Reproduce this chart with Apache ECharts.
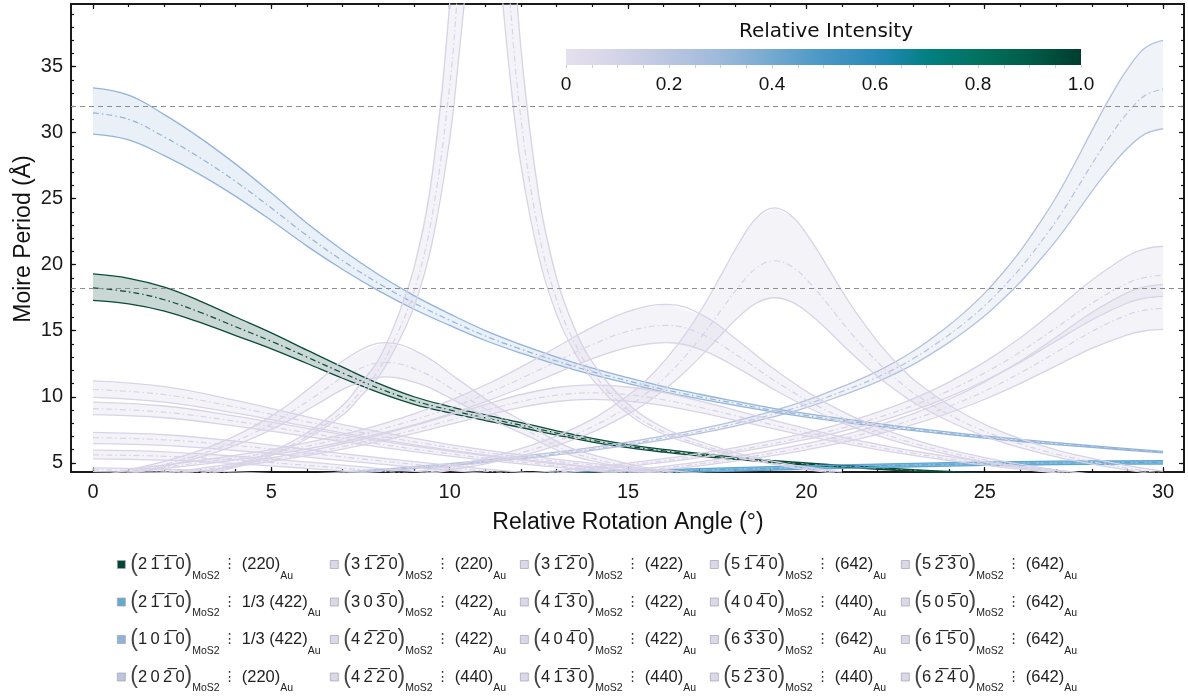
<!DOCTYPE html>
<html>
<head>
<meta charset="utf-8">
<title>Moire period vs rotation angle</title>
<script src="https://cdn.jsdelivr.net/npm/echarts@6/dist/echarts.min.js"></script>
<style>
  html, body { margin: 0; padding: 0; background: #fff; }
  #chart { width: 1188px; height: 697px; }
</style>
</head>
<body>
<div id="chart"></div>
<script>
// each band row: [angle, lower, centre, upper]
const greenBand = [
  [0,17.3,18.25,19.3],[1,17.03,17.95,18.97],[2,16.49,17.35,18.3],[3,15.63,16.4,17.25],
  [4,14.63,15.3,16.04],[5,13.63,14.2,14.84],[6,12.52,13.0,13.53],[7,11.4,11.8,12.24],
  [8,10.33,10.65,11.01],[9,9.43,9.7,10.0],[10,8.77,9.0,9.26],[11,8.2,8.4,8.62],
  [12,7.67,7.85,8.04],[13,7.1,7.25,7.42],[14,6.57,6.7,6.84],[15,6.14,6.25,6.37],
  [16,5.8,5.9,6.01],[17,5.51,5.6,5.7],[18,5.25,5.33,5.42],[19,5.03,5.1,5.18],
  [20,4.83,4.9,4.98],[21,4.67,4.73,4.8],[22,4.51,4.57,4.64],[23,4.36,4.42,4.48],
  [24,4.23,4.28,4.34],[25,4.1,4.15,4.2],[26,4.0,4.05,4.1]
];
const blueBand = [
  [0,29.9,31.5,33.4],[1,29.46,31.01,32.85],[2,28.26,29.68,31.37],[3,26.83,28.1,29.61],
  [4,25.18,26.3,27.62],[5,23.35,24.3,25.43],[6,21.41,22.2,23.14],[7,19.64,20.3,21.09],
  [8,18.04,18.6,19.26],[9,16.63,17.1,17.66],[10,15.4,15.8,16.28],[11,14.26,14.6,15.01],
  [12,13.3,13.6,13.95],[13,12.44,12.7,13.01],[14,11.67,11.9,12.17],[15,11.0,11.2,11.44],
  [16,10.37,10.55,10.76],[17,9.84,10.0,10.19],[18,9.35,9.5,9.67],[19,8.87,9.0,9.16],
  [20,8.46,8.58,8.72],[22,7.75,7.85,7.97],[24,7.14,7.22,7.32],[26,6.61,6.68,6.77],
  [28,6.16,6.22,6.29],[30,5.75,5.8,5.86]
];
const brightBand = [
  [10,3.73,3.86,3.99],[12,3.89,4.02,4.15],[14,4.06,4.19,4.32],[16,4.22,4.35,4.48],
  [18,4.37,4.5,4.63],[20,4.51,4.64,4.77],[22,4.64,4.77,4.9],[24,4.75,4.88,5.01],
  [26,4.83,4.96,5.09],[28,4.88,5.01,5.14],[30,4.9,5.03,5.16]
];
const periBand = [
  [6,4.01,4.06,4.12],[7,4.19,4.24,4.3],[8,4.36,4.42,4.49],[9,4.56,4.62,4.7],
  [10,4.78,4.85,4.93],[11,5.04,5.11,5.2],[12,5.31,5.39,5.49],[13,5.6,5.69,5.8],
  [14,5.94,6.04,6.16],[15,6.32,6.43,6.57],[16,6.74,6.87,7.03],[17,7.22,7.37,7.55],
  [18,7.78,7.95,8.16],[19,8.43,8.63,8.88],[20,9.18,9.42,9.72],[21,10.11,10.4,10.76],
  [22,11.14,11.5,11.94],[23,12.45,12.9,13.46],[24,14.12,14.7,15.42],[24.5,15.07,15.74,16.57],
  [25,16.13,16.9,17.85],[25.5,17.36,18.26,19.37],[26,18.69,19.75,21.05],[26.5,20.21,21.46,23.0],
  [27,21.83,23.3,25.11],[27.5,23.65,25.4,27.55],[28,25.54,27.6,30.14],[28.5,27.3,29.68,32.62],
  [29,28.82,31.5,34.81],[29.5,29.91,32.83,36.43],[30,30.3,33.3,37.0]
];
const peak11Band = [
  [3,4.04,4.1,4.19],[4,4.67,4.75,4.87],[5,5.54,5.65,5.83],[6,6.82,7.0,7.27],
  [7,8.61,8.9,9.34],[7.5,10.01,10.4,11.0],[8,11.48,12.0,12.79],[8.5,13.83,14.6,15.77],
  [9,16.83,18.0,19.78],[9.5,21.59,23.6,26.66],[10,29.54,33.6,39.81],[10.25,35.58,41.9,51.56],
  [10.5,42.39,52.2,67.19],[10.75,49.09,63.7,86.02],[10.95,51.4,68.0,93.4],[11.2,48.0,61.7,82.6],
  [11.45,40.9,49.9,63.6],[11.7,34.0,39.7,48.4],[12,27.5,31.0,36.3],[12.5,20.6,22.4,25.2],
  [13,16.22,17.3,18.95],[13.5,13.38,14.1,15.19],[14,11.34,11.85,12.62],[15,8.71,9.0,9.45],
  [16,7.16,7.35,7.65],[17,6.25,6.4,6.63],[18,5.49,5.6,5.77],[19,4.91,5.0,5.14],
  [20,4.48,4.55,4.66],[21,4.14,4.2,4.3]
];
const peak8Band = [
  [0.2,3.79,3.89,4.03],[1.2,4.26,4.39,4.57],[2.2,4.84,5.01,5.25],[3.2,5.58,5.81,6.13],
  [4.2,6.54,6.87,7.32],[5.2,7.78,8.25,8.89],[6.2,9.3,9.99,10.93],[7.2,10.8,11.76,13.07],
  [8.2,11.5,12.6,14.1],[9.2,10.93,11.91,13.25],[10.2,9.63,10.37,11.39],[11.2,8.23,8.76,9.48],
  [12.2,7.02,7.4,7.92],[13.2,5.75,6.0,6.34],[14.2,5.01,5.2,5.46],[15.2,4.45,4.6,4.8],
  [16.2,3.98,4.1,4.26]
];
const broad14Band = [
  [1,3.82,3.89,3.98],[2,4.08,4.16,4.26],[3,4.38,4.47,4.58],[4,4.71,4.82,4.95],
  [5,5.1,5.23,5.38],[6,5.54,5.69,5.87],[7,6.04,6.22,6.44],[8,6.6,6.82,7.08],
  [9,7.23,7.49,7.81],[10,7.9,8.22,8.6],[11,8.58,8.96,9.41],[12,9.2,9.64,10.17],
  [13,9.64,10.12,10.7],[14,9.8,10.3,10.9],[15,9.67,10.16,10.74],[16,9.32,9.77,10.31],
  [17,8.81,9.21,9.69],[18,8.22,8.57,8.99],[19,7.62,7.91,8.26],[20,7.03,7.28,7.58],
  [21,6.49,6.7,6.95],[22,6.0,6.18,6.4],[23,5.56,5.71,5.89],[24,5.17,5.3,5.46],
  [25,4.82,4.93,5.07],[26,4.51,4.61,4.73],[27,4.23,4.32,4.43],[28,3.98,4.06,4.15]
];
const peak16Band = [
  [1.1,4.32,4.43,4.56],[2.1,4.59,4.71,4.86],[3.1,4.9,5.04,5.21],[4.1,5.25,5.41,5.61],
  [5.1,5.64,5.83,6.06],[6.1,6.1,6.32,6.59],[7.1,6.63,6.89,7.21],[8.1,7.24,7.55,7.93],
  [9.1,7.95,8.33,8.8],[10.1,8.77,9.24,9.82],[11.1,9.72,10.3,11.02],[12.1,10.78,11.51,12.4],
  [13.1,11.91,12.81,13.92],[14.1,12.98,14.07,15.41],[15.1,13.79,15.03,16.55],[16.1,14.1,15.4,17.0],
  [17.1,13.52,14.7,16.16],[18.1,12.13,13.06,14.21],[19.1,10.54,11.23,12.08],[20.1,9.11,9.62,10.24],
  [21.1,7.92,8.3,8.76],[22.1,6.96,7.25,7.6],[23.1,6.18,6.4,6.68],[24.1,5.54,5.72,5.94],
  [25.1,5.01,5.16,5.34],[26.1,4.57,4.69,4.84],[27.1,4.2,4.3,4.42],[28.1,3.88,3.97,4.08]
];
const peak19Band = [
  [9.1,4.05,4.17,4.34],[10.1,4.47,4.61,4.82],[11.1,4.97,5.15,5.41],[12.1,5.6,5.83,6.16],
  [13.1,6.4,6.71,7.15],[14.1,7.44,7.86,8.46],[15.1,8.84,9.44,10.3],[15.6,9.7,10.44,11.5],
  [16.1,10.72,11.64,12.96],[16.6,11.9,13.06,14.72],[17.1,13.23,14.7,16.8],[17.6,14.67,16.52,19.17],
  [18.1,16.05,18.33,21.59],[18.6,17.1,19.75,23.54],[19.1,17.5,20.3,24.3],[19.6,17.17,19.84,23.66],
  [20.1,16.25,18.6,21.96],[20.6,15.04,17.0,19.8],[21.1,13.71,15.3,17.57],[21.6,12.47,13.75,15.59],
  [22.1,11.31,12.35,13.83],[22.6,10.31,11.15,12.36],[23.1,9.41,10.1,11.09],[24.1,8.01,8.5,9.2],
  [25.1,6.91,7.27,7.78],[26.1,6.07,6.34,6.73],[27.1,5.39,5.6,5.9],[28.1,4.86,5.03,5.28],
  [29.1,4.4,4.54,4.74],[30,4.07,4.19,4.36]
];
const rise1Band = [
  [12,4.0,4.07,4.17],[13,4.21,4.29,4.4],[14,4.46,4.55,4.67],[15,4.73,4.83,4.97],
  [16,5.03,5.15,5.31],[17,5.39,5.52,5.7],[18,5.78,5.93,6.14],[19,6.24,6.42,6.67],
  [20,6.77,6.98,7.27],[21,7.38,7.63,7.98],[22,8.1,8.41,8.83],[23,8.96,9.34,9.86],
  [24,9.99,10.46,11.11],[25,11.21,11.81,12.64],[26,12.62,13.4,14.47],[27,14.22,15.22,16.6],
  [28,15.81,17.08,18.82],[29,17.1,18.6,20.66],[29.5,17.47,19.04,21.2],[30,17.6,19.2,21.4]
];
const rise2Band = [
  [14,3.96,4.05,4.16],[15,4.19,4.3,4.42],[16,4.47,4.59,4.73],[17,4.77,4.91,5.07],
  [18,5.12,5.28,5.46],[19,5.52,5.71,5.92],[20,5.98,6.2,6.45],[21,6.52,6.78,7.08],
  [22,7.15,7.47,7.83],[23,7.9,8.29,8.73],[24,8.77,9.26,9.81],[25,9.81,10.43,11.13],
  [26,11.01,11.81,12.71],[27,12.34,13.36,14.51],[28,13.66,14.94,16.38],[29,14.69,16.2,17.89],
  [29.5,15.0,16.57,18.34],[30,15.1,16.7,18.5]
];
const fall1Band = [
  [0,9.95,10.55,11.2],[2,9.6,10.16,10.76],[4,8.76,9.22,9.72],[6,7.75,8.1,8.48],
  [8,6.79,7.06,7.35],[10,5.96,6.16,6.38],[12,5.27,5.43,5.6],[14,4.69,4.82,4.96],
  [16,4.23,4.33,4.44],[18,3.84,3.92,4.01]
];
const fall2Band = [
  [0,8.65,9.1,9.6],[2,8.41,8.83,9.3],[4,7.78,8.14,8.54],[6,6.99,7.28,7.6],
  [8,6.21,6.43,6.68],[10,5.5,5.68,5.88],[12,4.91,5.05,5.2],[14,4.4,4.51,4.63],
  [16,3.98,4.07,4.17]
];
const fall3Band = [
  [0,6.45,6.9,7.3],[2,6.31,6.74,7.12],[4,5.93,6.31,6.64],[6,5.43,5.74,6.02],
  [8,4.91,5.16,5.38],[10,4.42,4.62,4.8],[12,3.98,4.14,4.28],[14,3.6,3.73,3.85]
];
const fall4Band = [
  [0,5.3,5.6,5.95],[2,5.2,5.49,5.83],[4,4.94,5.2,5.5],[6,4.58,4.8,5.06],
  [8,4.19,4.37,4.58],[10,3.81,3.96,4.14]
];
const fall5Band = [[0,4.33,4.47,4.62],[3,4.18,4.3,4.43],[6,3.83,3.92,4.02]];

const refLines = [32, 18.2];
const xMajor = [0, 5, 10, 15, 20, 25, 30];
const yMajor = [5, 10, 15, 20, 25, 30, 35];

// legend entries, column by column: MoS2 indices | Au reflection
const legendCols = [
  ['2,-1,-1,0|220', '2,-1,-1,0|1/3 422', '1,0,-1,0|1/3 422', '2,0,-2,0|220'],
  ['3,-1,-2,0|220', '3,0,-3,0|422', '4,-2,-2,0|422', '4,-2,-2,0|440'],
  ['3,-1,-2,0|422', '4,-1,-3,0|422', '4,0,-4,0|422', '4,-1,-3,0|440'],
  ['5,-1,-4,0|642', '4,0,-4,0|440', '6,-3,-3,0|642', '5,-2,-3,0|440'],
  ['5,-2,-3,0|642', '5,0,-5,0|642', '6,-1,-5,0|642', '6,-2,-4,0|642']
];

const intensityStops = [
  [0, '#e6e0ee'], [0.1, '#d4d4e8'], [0.2, '#bac6e0'], [0.3, '#9cb9da'], [0.4, '#74a9cf'],
  [0.5, '#4a97c5'], [0.6, '#2a8ab8'], [0.65, '#1585a2'], [0.7, '#038082'], [0.8, '#027260'],
  [0.9, '#015c49'], [1, '#003d2e']
];

const palette = {
  green: { line: '#0a4a37', fill: 'rgba(1,70,54,0.21)', icon: '#014636' },
  blue2: { line: '#5ea6d2', fill: 'rgba(94,166,210,0.75)', icon: '#67a9cf' },
  blue:  { line: '#93b4d9', fill: 'rgba(147,180,217,0.2)', icon: '#8fb3d8' },
  peri:  { line: '#b5c1de', fill: 'rgba(181,193,222,0.2)', icon: '#bbc5e0' },
  lav:   { line: '#d9d3e7', fill: 'rgba(217,211,231,0.28)', icon: '#dcd7ea' }
};

const bands = [
  { name: '2,-1,-1,0|220', role: 'green', rows: greenBand },
  { name: '1,0,-1,0|1/3 422', role: 'blue', rows: blueBand },
  { name: '2,-1,-1,0|1/3 422', role: 'blue2', rows: brightBand },
  { name: '2,0,-2,0|220', role: 'peri', rows: periBand },
  { name: '3,-1,-2,0|220', role: 'lav', rows: peak8Band },
  { name: '3,0,-3,0|422', role: 'lav', rows: fall1Band },
  { name: '4,-2,-2,0|422', role: 'lav', rows: rise1Band },
  { name: '4,-2,-2,0|440', role: 'lav', rows: fall2Band },
  { name: '3,-1,-2,0|422', role: 'lav', rows: broad14Band },
  { name: '4,-1,-3,0|422', role: 'lav', rows: peak16Band },
  { name: '4,0,-4,0|422', role: 'lav', rows: fall3Band },
  { name: '4,-1,-3,0|440', role: 'lav', rows: fall4Band },
  { name: '5,-1,-4,0|642', role: 'lav', rows: peak19Band },
  { name: '4,0,-4,0|440', role: 'lav', rows: fall5Band },
  { name: '6,-3,-3,0|642', role: 'lav', rows: rise2Band },
  { name: '5,-2,-3,0|440', role: 'lav', rows: peak11Band },
  { name: '5,-2,-3,0|642', role: 'lav', rows: [] },
  { name: '5,0,-5,0|642', role: 'lav', rows: [] },
  { name: '6,-1,-5,0|642', role: 'lav', rows: [] },
  { name: '6,-2,-4,0|642', role: 'lav', rows: [] }
];

const roleOf = {};
bands.forEach(b => { roleOf[b.name] = b.role; });

function range(a, b) { const r = []; for (let i = a; i <= b; i++) r.push(i); return r; }

function legendLabel(name) {
  const parts = name.split('|');
  const idx = parts[0].split(',').map(d => d.charAt(0) === '-' ? d.slice(1) + '\u0305' : d).join('\u2009');
  let au;
  if (parts[1].indexOf('1/3') === 0) {
    au = '{d|1/3 (' + parts[1].slice(4) + ')}';
  } else {
    au = '{d|(' + parts[1] + ')}';
  }
  return '{p|(}{d|' + idx + '}{p|)}{s|MoS2}{c|\u22EE}' + au + '{s|Au}';
}

const series = [];
bands.forEach(b => {
  const pal = palette[b.role];
  if (!b.rows.length) {
    series.push({ type: 'line', name: b.name, data: [], silent: true });
    return;
  }
  const rows = b.rows;
  series.push({
    type: 'custom', name: b.name, silent: true, clip: true,
    data: [[rows[0][0], rows[0][2]]],
    renderItem: function (params, api) {
      const up = rows.map(r => api.coord([r[0], r[3]]));
      const lo = rows.map(r => api.coord([r[0], r[1]])).reverse();
      const cs = params.coordSys;
      return {
        type: 'polygon',
        shape: { points: up.concat(lo) },
        style: { fill: pal.fill, stroke: null },
        clipPath: { type: 'rect', shape: { x: cs.x, y: cs.y, width: cs.width, height: cs.height } }
      };
    }
  });
  [1, 3].forEach(k => {
    series.push({
      type: 'line', name: b.name, silent: true, smooth: 0.4, symbol: 'none',
      data: rows.map(r => [r[0], r[k]]),
      lineStyle: { color: pal.line, width: 1.3 }
    });
  });
  series.push({
    type: 'line', name: b.name, silent: true, smooth: 0.4, symbol: 'none',
    data: rows.map(r => [r[0], r[2]]),
    lineStyle: { color: pal.line, width: 1.2, type: [6, 3, 1.5, 3] }
  });
});

// dashed reference levels
series[1].markLine = {
  silent: true, symbol: ['none', 'none'], label: { show: false },
  lineStyle: { color: '#8c8c8c', type: [5, 4], width: 1.1 },
  data: refLines.map(v => ({ yAxis: v }))
};

const FONT = 'Liberation Sans';
const xMin = -0.617, xMax = 30.586, yMin = 4.3, yMax = 39.75;

function xAx(pos, ticks, len, labels) {
  return {
    type: 'value', gridIndex: 0, min: xMin, max: xMax, position: pos,
    axisLine: { show: false, onZero: false }, splitLine: { show: false },
    axisTick: { show: true, inside: true, length: len, customValues: ticks, lineStyle: { color: '#111', width: 1.2 } },
    axisLabel: labels ? { customValues: ticks, fontSize: 20, color: '#1a1a1a', margin: 10, fontFamily: FONT } : { show: false }
  };
}
function yAx(pos, ticks, len, labels) {
  return {
    type: 'value', gridIndex: 0, min: yMin, max: yMax, position: pos,
    axisLine: { show: false, onZero: false }, splitLine: { show: false },
    axisTick: { show: true, inside: true, length: len, customValues: ticks, lineStyle: { color: '#111', width: 1.2 } },
    axisLabel: labels ? { customValues: ticks, fontSize: 20, color: '#1a1a1a', margin: 8, fontFamily: FONT } : { show: false }
  };
}

const legendRich = {
  p: { fontSize: 23, lineHeight: 34, fontFamily: FONT, color: '#444' },
  d: { fontSize: 16.5, lineHeight: 34, fontFamily: FONT + ', DejaVu Sans', color: '#222' },
  s: { fontSize: 10.5, lineHeight: 12, verticalAlign: 'bottom', fontFamily: FONT, color: '#222' },
  c: { fontSize: 14, lineHeight: 34, fontFamily: 'DejaVu Sans', color: '#333', padding: [0, 5, 0, 3] }
};
const legendLeft = [117, 330, 520, 710, 901];

const chart = echarts.init(document.getElementById('chart'));
chart.setOption({
  animation: false,
  textStyle: { fontFamily: FONT },
  grid: [
    { left: 71, top: 4, width: 1113, height: 468, show: true, borderColor: '#1a1a1a', borderWidth: 2, backgroundColor: 'transparent' },
    { left: 566, top: 49, width: 515, height: 16 }
  ],
  xAxis: [
    xAx('bottom', xMajor, 5, true),
    xAx('bottom', range(0, 30), 3, false),
    xAx('top', xMajor, 5, false),
    xAx('top', range(0, 30), 3, false),
    {
      type: 'value', gridIndex: 1, min: 0, max: 1, interval: 0.2, position: 'bottom',
      axisLine: { show: false }, splitLine: { show: false },
      axisTick: { show: true, length: 3, lineStyle: { color: '#cfcfcf' } },
      minorTick: { show: true, splitNumber: 4, length: 3, lineStyle: { color: '#cfcfcf' } },
      axisLabel: { fontSize: 19, color: '#111', margin: 10, formatter: v => v === 0 ? '0' : v.toFixed(1) }
    }
  ],
  yAxis: [
    yAx('left', yMajor, 5, true),
    yAx('left', range(5, 39), 3, false),
    yAx('right', yMajor, 5, false),
    yAx('right', range(5, 39), 3, false),
    { type: 'value', gridIndex: 1, min: 0, max: 1, show: false }
  ],
  legend: legendCols.map((col, i) => ({
    orient: 'vertical', left: legendLeft[i], top: 553, height: 170, padding: 0, itemGap: 9,
    itemWidth: 8, itemHeight: 8, icon: 'rect', selectedMode: false,
    data: col.map(n => ({ name: n, itemStyle: { color: palette[roleOf[n]].icon, borderColor: '#a3a3a3', borderWidth: 0.7 } })),
    formatter: legendLabel,
    textStyle: { color: '#222', rich: legendRich }
  })),
  graphic: [
    {
      type: 'rect', shape: { x: 566, y: 49, width: 515, height: 16 }, silent: true,
      style: { fill: new echarts.graphic.LinearGradient(0, 0, 1, 0, intensityStops.map(s => ({ offset: s[0], color: s[1] }))) }
    },
    { type: 'text', x: 826, y: 32, silent: true,
      style: { text: 'Relative Intensity', fontSize: 20, fontFamily: 'DejaVu Sans', fill: '#111', align: 'center', verticalAlign: 'middle' } },
    { type: 'text', x: 628, y: 523, silent: true,
      style: { text: 'Relative Rotation Angle (°)', fontSize: 23, fontFamily: FONT, fill: '#111', align: 'center', verticalAlign: 'middle' } },
    { type: 'text', x: 24, y: 239, rotation: Math.PI / 2, silent: true,
      style: { text: 'Moire Period (Å)', fontSize: 23, fontFamily: FONT, fill: '#111', align: 'center', verticalAlign: 'middle' } }
  ],
  series: series
});
</script>
</body>
</html>
